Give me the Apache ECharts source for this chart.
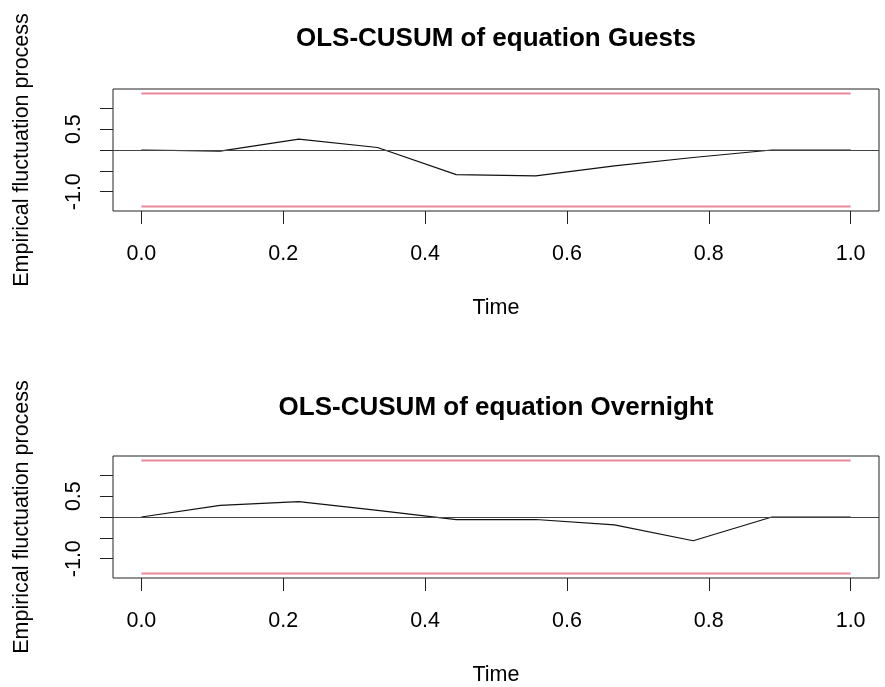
<!DOCTYPE html>
<html>
<head>
<meta charset="utf-8">
<script src="https://cdn.jsdelivr.net/npm/echarts@6/dist/echarts.min.js"></script>
<style>
html,body{margin:0;padding:0;background:#fff;}
#c{width:885px;height:687px;}
</style>
</head>
<body>
<div id="c"></div>
<script>
// ---- data ----
var titles = ['OLS-CUSUM of equation Guests', 'OLS-CUSUM of equation Overnight'];
var time = [0, 0.111, 0.222, 0.333, 0.444, 0.556, 0.667, 0.778, 0.889, 1];
var guests = [0, -0.025, 0.26, 0.06, -0.59, -0.62, -0.38, -0.18, 0, 0];
var overnight = [0, 0.28, 0.37, 0.16, -0.065, -0.06, -0.19, -0.57, 0, 0];
var boundary = 1.358;
var xTicks = [0, 0.2, 0.4, 0.6, 0.8, 1.0];
var yTicks = [-1.0, -0.5, 0, 0.5, 1.0];
var yTickLabels = [-1.0, 0.5];
var xName = 'Time';
var yName = 'Empirical fluctuation process';

var FONT = '"Liberation Sans", Arial, Helvetica, sans-serif';
var chart = echarts.init(document.getElementById('c'), null, {renderer: 'canvas'});

function pairs(xs, ys) { return xs.map(function (x, i) { return [x, ys[i]]; }); }

var grids = [
  {left: 113, top: 89, width: 766, height: 122},
  {left: 113, top: 456, width: 766, height: 122}
];
var titleTops = [26, 395];
var seriesData = [guests, overnight];

var option = {
  backgroundColor: '#fff',
  animation: false,
  textStyle: {fontFamily: FONT},
  title: titles.map(function (t, i) {
    return {text: t, left: 496, top: titleTops[i], textAlign: 'center', padding: 0,
      textStyle: {fontFamily: FONT, fontSize: 26, fontWeight: 'bold', color: '#000'}};
  }),
  grid: grids.map(function (g) {
    return Object.assign({show: true, borderColor: '#222', borderWidth: 1, backgroundColor: 'transparent', containLabel: false}, g);
  }),
  xAxis: [0, 1].map(function (i) {
    return {
      type: 'value', gridIndex: i, min: -0.04, max: 1.04, position: 'bottom',
      name: xName, nameLocation: 'middle', nameGap: 86,
      nameTextStyle: {fontFamily: FONT, fontSize: 21.5, color: '#000'},
      axisLine: {show: false, onZero: false},
      splitLine: {show: false},
      axisTick: {show: true, inside: false, length: 13, customValues: xTicks, lineStyle: {color: '#222', width: 1}},
      axisLabel: {show: true, margin: 32, customValues: xTicks, fontFamily: FONT, fontSize: 21.5, color: '#000',
        formatter: function (v) { return v.toFixed(1); }}
    };
  }),
  yAxis: [0, 1].map(function (i) {
    return {
      type: 'value', gridIndex: i, min: -1.463, max: 1.463, position: 'left',
      name: yName, nameLocation: 'middle', nameGap: 80, nameRotate: 90,
      nameTextStyle: {fontFamily: FONT, fontSize: 21.5, color: '#000'},
      axisLine: {show: false, onZero: false},
      splitLine: {show: false},
      axisTick: {show: true, inside: false, length: 13, customValues: yTicks, lineStyle: {color: '#222', width: 1}},
      axisLabel: {show: true, margin: 28, rotate: 90, customValues: yTickLabels, fontFamily: FONT, fontSize: 21.5, color: '#000',
        formatter: function (v) { return v.toFixed(1); }}
    };
  }),
  series: []
};

[0, 1].forEach(function (i) {
  option.series.push({
    type: 'line', xAxisIndex: i, yAxisIndex: i, symbol: 'none', silent: true,
    data: pairs([time[0], time[time.length - 1]], [boundary, boundary]),
    lineStyle: {color: '#E7899A', width: 2}
  });
  option.series.push({
    type: 'line', xAxisIndex: i, yAxisIndex: i, symbol: 'none', silent: true,
    data: pairs([time[0], time[time.length - 1]], [-boundary, -boundary]),
    lineStyle: {color: '#E7899A', width: 2}
  });
  option.series.push({
    type: 'line', xAxisIndex: i, yAxisIndex: i, symbol: 'none', silent: true,
    data: pairs(time, seriesData[i]),
    lineStyle: {color: '#111', width: 1.2},
    markLine: {silent: true, symbol: 'none', label: {show: false},
      lineStyle: {color: '#444', width: 1.2, type: 'solid'},
      data: [{yAxis: 0}]}
  });
});

chart.setOption(option);
</script>
</body>
</html>
